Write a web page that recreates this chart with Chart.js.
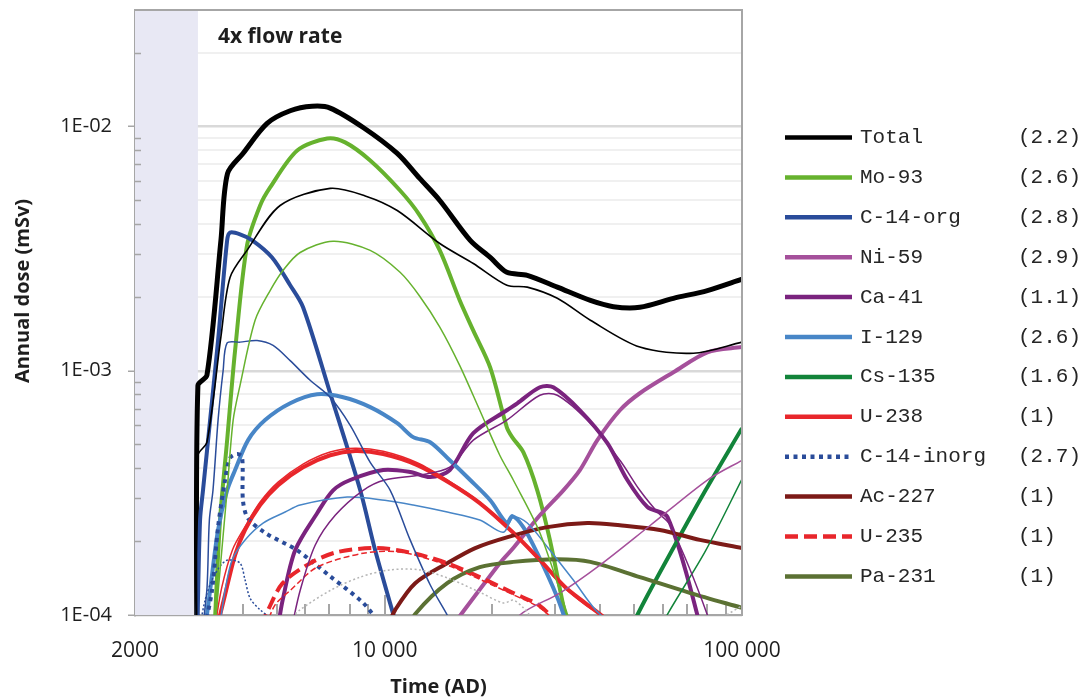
<!DOCTYPE html>
<html>
<head>
<meta charset="utf-8">
<script src="https://cdn.jsdelivr.net/npm/chart.js@4.4.1/dist/chart.umd.min.js"></script>
<style>
  html, body { margin: 0; padding: 0; background: #fff; }
</style>
</head>
<body>
<canvas id="chart" width="1078" height="700"></canvas>
<script>
// [year AD, annual dose mSv]; thick = main case, thin = companion case
const total = [[2980,5e-5],[3000,8.7e-4],[3180,9.6e-4],[3480,3.42e-3],[3630,6.42e-3],[4010,7.76e-3],[4686,1.03e-2],[5437,1.16e-2],[6264,1.21e-2],[7036,1.19e-2],[8704,9.91e-3],[10840,7.76e-3],[12530,6.13e-3],[14260,4.98e-3],[17350,3.42e-3],[19740,2.91e-3],[21970,2.53e-3],[25060,2.46e-3],[30420,2.2e-3],[37640,1.94e-3],[43660,1.83e-3],[51760,1.82e-3],[64280,1.98e-3],[80000,2.13e-3],[100000,2.37e-3]];
const totalThin = [[2980,5e-5],[3000,4.5e-4],[3180,5.1e-4],[3480,1.38e-3],[3690,2.41e-3],[4117,3.11e-3],[5096,4.75e-3],[7036,5.58e-3],[8820,5.2e-3],[10840,4.53e-3],[14260,3.32e-3],[17700,2.75e-3],[21970,2.24e-3],[25060,2.2e-3],[30420,1.98e-3],[37640,1.61e-3],[51760,1.25e-3],[73120,1.18e-3],[100000,1.31e-3]];
const mo93 = [[3330,8e-5],[3460,2.45e-4],[3622,5.2e-4],[3812,1.21e-3],[4117,3.26e-3],[4480,4.75e-3],[4778,5.63e-3],[5690,7.98e-3],[6900,8.93e-3],[7748,8.61e-3],[9107,7.26e-3],[11040,5.47e-3],[12530,4.33e-3],[14260,3.11e-3],[16220,1.94e-3],[17700,1.46e-3],[19740,1.03e-3],[21970,5.87e-4],[22760,5.34e-4],[24430,4.64e-4],[26730,3.24e-4],[28990,2.03e-4],[32020,1e-4],[34000,7e-5]];
const mo93Thin = [[3350,9e-5],[3622,3.24e-4],[3765,6.28e-4],[3936,8.72e-4],[4337,1.61e-3],[4778,2.13e-3],[5196,2.58e-3],[5798,3.05e-3],[7170,3.39e-3],[9107,3.11e-3],[11040,2.53e-3],[12530,2.02e-3],[14260,1.51e-3],[16220,1.05e-3],[18450,6.89e-4],[20990,4.51e-4],[22900,3.57e-4],[27180,2.17e-4],[32500,1e-4],[34000,8e-5]];
const c14org = [[2990,9e-5],[3042,2.45e-4],[3100,3.24e-4],[3245,6.28e-4],[3416,1.33e-3],[3622,3.42e-3],[3690,3.68e-3],[3936,3.62e-3],[4260,3.42e-3],[4838,2.91e-3],[5437,2.24e-3],[5908,1.82e-3],[7036,8.09e-4],[8540,3.24e-4],[9404,1.84e-4],[10800,9e-5]];
const c14orgThin = [[3100,9e-5],[3182,1.3e-4],[3230,2.45e-4],[3306,3.24e-4],[3416,6.28e-4],[3529,1e-3],[3622,1.3e-3],[3936,1.31e-3],[4394,1.33e-3],[4870,1.27e-3],[5437,1.1e-3],[6184,9.14e-4],[7036,7.79e-4],[8006,5.98e-4],[9107,4.22e-4],[10360,3.24e-4],[11780,2.03e-4],[13400,1.33e-4],[14960,1e-4],[15500,9e-5]];
const ni59 = [[15000,8.5e-5],[20990,1.63e-4],[22900,1.88e-4],[27180,2.56e-4],[31620,3.24e-4],[35180,3.92e-4],[39370,5.2e-4],[45530,6.89e-4],[51760,8.09e-4],[64280,9.86e-4],[80000,1.19e-3],[100000,1.25e-3]];
const ni59Thin = [[22000,8e-5],[23890,1e-4],[30920,1.23e-4],[40030,1.6e-4],[55420,2.33e-4],[80000,3.57e-4],[100000,4.3e-4]];
const ca41 = [[5030,9e-5],[5180,1.15e-4],[5614,1.84e-4],[6468,2.61e-4],[7170,3.24e-4],[8006,3.57e-4],[9900,3.92e-4],[11780,3.85e-4],[13400,3.67e-4],[15210,3.92e-4],[17700,5.55e-4],[21970,6.89e-4],[23500,7.36e-4],[27180,8.56e-4],[29640,8.56e-4],[35180,6.89e-4],[42000,5.05e-4],[47760,3.57e-4],[54360,2.77e-4],[61840,2.52e-4],[75000,1e-4],[76000,8e-5]];
const ca41Thin = [[5500,9e-5],[5798,1.26e-4],[6386,1.93e-4],[7267,2.56e-4],[8704,3.24e-4],[10000,3.57e-4],[12530,3.74e-4],[15210,4.03e-4],[17700,5.2e-4],[21970,6.28e-4],[27180,7.94e-4],[30420,7.94e-4],[37640,6.1e-4],[45530,4.3e-4],[51760,3.24e-4],[57960,2.64e-4],[63050,2.33e-4],[80000,1e-4],[82000,8e-5]];
const i129 = [[3150,9e-5],[3245,1.26e-4],[3416,2.23e-4],[3622,3.24e-4],[3812,3.92e-4],[4146,5.2e-4],[4625,6.28e-4],[5437,7.36e-4],[6468,8.01e-4],[7650,7.79e-4],[9107,7.1e-4],[10840,6.1e-4],[12010,5.35e-4],[13400,5.1e-4],[15210,4.3e-4],[17350,3.57e-4],[19740,2.95e-4],[21970,2.38e-4],[22760,2.54e-4],[24430,2.29e-4],[26730,1.79e-4],[30420,1.18e-4],[32500,9e-5]];
const i129Thin = [[3450,9e-5],[3574,1.26e-4],[3740,1.68e-4],[4066,2.03e-4],[4566,2.38e-4],[5264,2.64e-4],[5798,2.82e-4],[7850,3.04e-4],[10000,2.95e-4],[12010,2.82e-4],[14960,2.64e-4],[18450,2.45e-4],[21470,2.18e-4],[22900,2.52e-4],[25060,2.38e-4],[28520,1.9e-4],[33720,1.39e-4],[38880,1.05e-4],[44000,9e-5]];
const cs135 = [[50000,9e-5],[50940,1e-4],[63050,1.79e-4],[79040,3.24e-4],[100000,5.82e-4]];
const cs135Thin = [[60000,9e-5],[61700,1e-4],[79040,1.83e-4],[100000,3.6e-4]];
const u238 = [[3400,9e-5],[3574,1.21e-4],[3812,1.76e-4],[4066,2.23e-4],[4480,2.82e-4],[5030,3.4e-4],[5908,4.03e-4],[7036,4.51e-4],[8265,4.69e-4],[9900,4.56e-4],[12330,4.11e-4],[15210,3.47e-4],[18450,2.87e-4],[22900,2.17e-4],[27180,1.68e-4],[32020,1.3e-4],[36420,1.12e-4],[41000,9.8e-5],[43000,9e-5]];
const u238Thin = [[3350,9e-5],[3500,1.3e-4],[3750,1.85e-4],[4066,2.3e-4],[4480,2.9e-4],[5030,3.5e-4],[5908,4.15e-4],[7036,4.65e-4],[8265,4.82e-4],[9900,4.68e-4],[12330,4.2e-4],[15210,3.52e-4],[18450,2.9e-4],[22900,2.18e-4],[27180,1.66e-4],[32020,1.28e-4],[36420,1.1e-4],[41000,9.8e-5],[43000,9e-5]];
const c14inorg = [[3140,9e-5],[3285,1.26e-4],[3416,2.29e-4],[3574,3.57e-4],[3690,4.39e-4],[3862,4.56e-4],[3988,4.43e-4],[4010,2.95e-4],[4140,2.49e-4],[4625,2.17e-4],[5687,1.84e-4],[7036,1.44e-4],[8704,1.12e-4],[9800,9e-5]];
const c14inorgThin = [[3040,9e-5],[3142,1.15e-4],[3285,1.39e-4],[3480,1.6e-4],[3640,1.68e-4],[3936,1.63e-4],[4066,1.39e-4],[4200,1.17e-4],[4480,1.05e-4],[4900,9.5e-5]];
const ac227 = [[10200,9e-5],[10700,1.05e-4],[12170,1.35e-4],[14960,1.63e-4],[17920,1.88e-4],[21970,2.08e-4],[28520,2.29e-4],[36920,2.38e-4],[45530,2.33e-4],[58880,2.23e-4],[76210,2.03e-4],[100000,1.88e-4]];
const u235 = [[4500,9e-5],[4717,1.05e-4],[5180,1.35e-4],[6184,1.63e-4],[7360,1.81e-4],[9528,1.88e-4],[12010,1.79e-4],[14960,1.63e-4],[18450,1.43e-4],[22900,1.23e-4],[27180,1.09e-4],[31000,9e-5]];
const u235Thin = [[4650,9e-5],[4934,1.1e-4],[5437,1.26e-4],[6468,1.57e-4],[8704,1.79e-4],[11040,1.81e-4],[14960,1.6e-4],[18450,1.4e-4],[22900,1.21e-4],[27180,1.07e-4],[31000,9e-5]];
const pa231 = [[11800,9e-5],[12170,1.01e-4],[14960,1.35e-4],[18450,1.57e-4],[22900,1.65e-4],[30420,1.69e-4],[37640,1.65e-4],[51760,1.43e-4],[71720,1.23e-4],[100000,1.07e-4]];
const otherDotted = [[5150,9e-5],[5798,1.05e-4],[7036,1.26e-4],[8540,1.43e-4],[10360,1.53e-4],[12530,1.53e-4],[14960,1.42e-4],[18450,1.24e-4],[21470,1.12e-4],[22900,1.15e-4],[24430,1.07e-4],[27000,9e-5],[50000,null],[80000,9e-5],[100000,1.09e-4]];

const seriesNames = ['Total', 'Mo-93', 'C-14-org', 'Ni-59', 'Ca-41', 'I-129', 'Cs-135', 'U-238', 'C-14-inorg', 'Ac-227', 'U-235', 'Pa-231'];
const seriesNotes = ['(2.2)', '(2.6)', '(2.8)', '(2.9)', '(1.1)', '(2.6)', '(1.6)', '(1)', '(2.7)', '(1)', '(1)', '(1)'];

const xTickValues = [2000, 3000, 4000, 5000, 6000, 7000, 8000, 9000, 10000, 20000, 30000, 40000, 50000, 60000, 70000, 80000, 90000, 100000];
const xLabelValues = [2000, 10000, 100000];
const xTickLabels = ['2000', '10 000', '100 000'];
const yTickValues = [1e-4, 2e-4, 3e-4, 4e-4, 5e-4, 6e-4, 7e-4, 8e-4, 9e-4, 1e-3, 2e-3, 3e-3, 4e-3, 5e-3, 6e-3, 7e-3, 8e-3, 9e-3, 1e-2, 2e-2, 3e-2];
const yLabelValues = [1e-4, 1e-3, 1e-2];
const yTickLabels = ['1E-04', '1E-03', '1E-02'];
const shadeYears = [2000, 3000];

const xy = arr => arr.map(([x, y]) => ({ x, y }));
const near = (a, b) => Math.abs(Math.log10(a) - Math.log10(b)) < 1e-6;
const labelFor = (v, vals, labels) => {
  const i = vals.findIndex(w => near(v, w));
  return i >= 0 ? labels[i] : '';
};

const colors = {
  total: '#000000', mo: '#66b22e', c14: '#2a4c9a', ni: '#a5509b', ca: '#7a237e',
  i129: '#4886c7', cs: '#12843a', u: '#e8262b', ac: '#7c1a17', pa: '#5b7133'
};

const line = (label, data, color, width, dash) => ({
  label, data: xy(data), borderColor: color, borderWidth: width,
  borderDash: dash || [], fill: false, clip: 0, pointRadius: 0
});

// legend order, thick lines
const legendSets = [
  line(seriesNames[0], total, colors.total, 5),
  line(seriesNames[1], mo93, colors.mo, 4),
  line(seriesNames[2], c14org, colors.c14, 4),
  line(seriesNames[3], ni59, colors.ni, 4),
  line(seriesNames[4], ca41, colors.ca, 4),
  line(seriesNames[5], i129, colors.i129, 4),
  line(seriesNames[6], cs135, colors.cs, 4),
  line(seriesNames[7], u238, colors.u, 4),
  line(seriesNames[8], c14inorg, colors.c14, 4, [4, 4.5]),
  line(seriesNames[9], ac227, colors.ac, 4),
  line(seriesNames[10], u235, colors.u, 4, [13, 6]),
  line(seriesNames[11], pa231, colors.pa, 4)
];

const thinSets = [
  line('other', otherDotted, '#b5b5b5', 1.5, [2, 2.5]),
  line('Total b', totalThin, colors.total, 1.6),
  line('Mo-93 b', mo93Thin, colors.mo, 1.5),
  line('C-14-org b', c14orgThin, colors.c14, 1.5),
  line('Ni-59 b', ni59Thin, colors.ni, 1.5),
  line('Ca-41 b', ca41Thin, colors.ca, 1.5),
  line('I-129 b', i129Thin, colors.i129, 1.5),
  line('Cs-135 b', cs135Thin, colors.cs, 1.5),
  line('U-238 b', u238Thin, colors.u, 1.5),
  line('C-14-inorg b', c14inorgThin, colors.c14, 1.5, [2, 2]),
  line('U-235 b', u235Thin, colors.u, 1.5, [6, 3])
];

const axisGray = '#a6a6a6';
const textColor = '#1e1e1e';

const decor = {
  id: 'decor',
  beforeDatasetsDraw(chart) {
    const { ctx, chartArea: a, scales: { x, y } } = chart;
    ctx.save();
    // shaded period
    const x0 = x.getPixelForValue(shadeYears[0]);
    const x1 = x.getPixelForValue(shadeYears[1]);
    ctx.fillStyle = '#e8e8f4';
    ctx.fillRect(x0, a.top, x1 - x0, a.bottom - a.top);
    // minor tick marks inside the plot
    ctx.strokeStyle = axisGray;
    ctx.lineWidth = 2;
    xTickValues.forEach(v => {
      if (near(v, x.min) || near(v, x.max)) return;
      const px = Math.round(x.getPixelForValue(v));
      const len = near(v, 10000) ? 20 : 11;
      ctx.beginPath();
      ctx.moveTo(px, a.bottom);
      ctx.lineTo(px, a.bottom - len);
      ctx.stroke();
    });
    ctx.lineWidth = 1.5;
    yTickValues.forEach(v => {
      if (yLabelValues.some(w => near(v, w)) || near(v, y.max)) return;
      const py = Math.round(y.getPixelForValue(v)) + 0.5;
      ctx.beginPath();
      ctx.moveTo(a.left, py);
      ctx.lineTo(a.left + 6, py);
      ctx.stroke();
    });
    ctx.restore();
  },
  afterDatasetsDraw(chart) {
    const { ctx, chartArea: a } = chart;
    ctx.save();
    ctx.strokeStyle = axisGray;
    ctx.lineWidth = 2;
    ctx.beginPath();
    ctx.moveTo(a.left, a.top);
    ctx.lineTo(a.right, a.top);
    ctx.lineTo(a.right, a.bottom);
    ctx.stroke();
    ctx.restore();
  },
  afterDraw(chart) {
    const { ctx } = chart;
    ctx.save();
    // panel title
    ctx.fillStyle = textColor;
    ctx.font = 'bold 21px "Open Sans"';
    ctx.textBaseline = 'middle';
    ctx.textAlign = 'left';
    ctx.fillText('4x flow rate', 218, 37);
    // y axis title
    ctx.save();
    ctx.translate(23, 291);
    ctx.rotate(-Math.PI / 2);
    ctx.textAlign = 'center';
    ctx.font = 'bold 20px "Open Sans"';
    ctx.fillText('Annual dose (mSv)', 0, 0);
    ctx.restore();
    // legend
    legendSets.forEach((ds, i) => {
      const yy = 137.5 + i * 39.9;
      ctx.save();
      ctx.strokeStyle = ds.borderColor;
      ctx.lineWidth = 4.5;
      ctx.setLineDash(ds.borderDash);
      ctx.beginPath();
      ctx.moveTo(785, yy);
      ctx.lineTo(852, yy);
      ctx.stroke();
      ctx.restore();
      ctx.fillStyle = '#262626';
      ctx.font = '21px "Liberation Mono"';
      ctx.textBaseline = 'middle';
      ctx.textAlign = 'left';
      ctx.fillText(seriesNames[i], 860, yy);
      ctx.fillText(seriesNotes[i], 1018, yy);
    });
    ctx.restore();
  }
};

new Chart(document.getElementById('chart').getContext('2d'), {
  type: 'line',
  data: { datasets: thinSets.concat(legendSets.slice().reverse()) },
  options: {
    responsive: false,
    animation: false,
    devicePixelRatio: 1,
    layout: { padding: { top: 10, right: 336, left: 0, bottom: 0 } },
    plugins: { legend: { display: false }, tooltip: { enabled: false } },
    elements: {
      point: { radius: 0 },
      line: { tension: 0.3, borderCapStyle: 'butt', borderJoinStyle: 'round', capBezierPoints: false }
    },
    scales: {
      x: {
        type: 'logarithmic',
        min: 2000,
        max: 100000,
        afterBuildTicks: s => { s.ticks = xTickValues.map(v => ({ value: v })); },
        afterFit: s => { s.height = 85; s.paddingLeft = 0; s.paddingRight = 0; },
        ticks: {
          autoSkip: false, maxRotation: 0, minRotation: 0, padding: 15,
          color: textColor, font: { family: 'Open Sans', size: 21 },
          callback: v => labelFor(v, xLabelValues, xTickLabels)
        },
        grid: { display: false },
        border: { display: true, color: axisGray, width: 2 },
        title: {
          display: true, text: 'Time (AD)', color: textColor,
          font: { family: 'Open Sans', size: 20, weight: 'bold' },
          padding: { top: 0, bottom: 1 }
        }
      },
      y: {
        type: 'logarithmic',
        min: 1e-4,
        max: 3e-2,
        afterBuildTicks: s => { s.ticks = yTickValues.map(v => ({ value: v })); },
        afterFit: s => { s.width = 135; s.paddingTop = 0; s.paddingBottom = 0; },
        ticks: {
          autoSkip: false, padding: 16,
          color: textColor, font: { family: 'Open Sans', size: 20 },
          callback: v => labelFor(v, yLabelValues, yTickLabels)
        },
        grid: {
          drawOnChartArea: true,
          tickLength: 7,
          color: c => yLabelValues.some(w => near(c.tick.value, w)) ? '#d9d9d9' : '#f0f0f0',
          lineWidth: c => yLabelValues.some(w => near(c.tick.value, w)) ? 2.5 : 2,
          tickColor: c => yLabelValues.some(w => near(c.tick.value, w)) ? axisGray : 'rgba(0,0,0,0)',
          tickWidth: 1.5
        },
        border: { display: true, color: axisGray, width: 2 }
      }
    }
  },
  plugins: [decor]
});
</script>
</body>
</html>
